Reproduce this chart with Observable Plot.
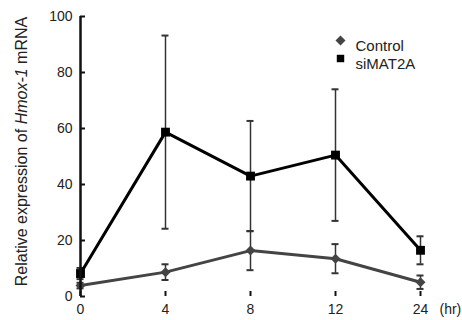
<!DOCTYPE html>
<html>
<head>
<meta charset="utf-8">
<script src="https://cdn.jsdelivr.net/npm/d3@7"></script>
<script src="https://cdn.jsdelivr.net/npm/@observablehq/plot@0.6"></script>
<style>
  html, body { margin: 0; padding: 0; background: #fff; }
  #chart { width: 462px; height: 320px; }
  #chart svg g[aria-label="x-axis tick label"],
  #chart svg g[aria-label="y-axis tick label"] { font-size: 14px !important; }
</style>
</head>
<body>
<div id="chart"></div>
<script>
const hours = ["0", "4", "8", "12", "24"];
const controlMean = [3.9, 8.7, 16.4, 13.5, 5.1];
const controlErr = [1.0, 2.8, 7.0, 5.2, 2.4];
const simat2aMean = [8.2, 58.7, 43.0, 50.5, 16.5];
const simat2aErr = [2.0, 34.5, 19.7, 23.5, 5.0];
const yTicks = [0, 20, 40, 60, 80, 100];
const seriesNames = ["Control", "siMAT2A"];
const yTitleParts = ["Relative expression of ", "Hmox-1", " mRNA"];
const xUnit = "(hr)";

const controlRows = hours.map((h, i) => ({hour: h, mean: controlMean[i], err: controlErr[i], series: seriesNames[0]}));
const simRows = hours.map((h, i) => ({hour: h, mean: simat2aMean[i], err: simat2aErr[i], series: seriesNames[1]}));
const allRows = controlRows.concat(simRows);
const yTitle = yTitleParts.join("");

const errColor = "#333";
const ctrlColor = "#444";
const simColor = "#000";

const chart = Plot.plot({
  width: 462,
  height: 320,
  marginLeft: 80,
  marginRight: 42,
  marginTop: 16,
  marginBottom: 24,
  style: {fontFamily: "'Liberation Sans', Arial, Helvetica, sans-serif", fontSize: "14px", color: "#222", background: "#fff"},
  x: {type: "point", domain: hours, padding: 0},
  y: {domain: [0, 100]},
  marks: [
    // error bars
    Plot.ruleX(allRows, {x: "hour", y1: d => d.mean - d.err, y2: d => d.mean + d.err, stroke: errColor, strokeWidth: 1.5}),
    Plot.ruleY(allRows, {x1: "hour", x2: "hour", y: d => d.mean + d.err, insetLeft: -3.5, insetRight: -3.5, stroke: errColor, strokeWidth: 2}),
    Plot.ruleY(allRows, {x1: "hour", x2: "hour", y: d => d.mean - d.err, insetLeft: -3.5, insetRight: -3.5, stroke: errColor, strokeWidth: 2}),
    // lines
    Plot.line(controlRows, {x: "hour", y: "mean", stroke: ctrlColor, strokeWidth: 3}),
    Plot.line(simRows, {x: "hour", y: "mean", stroke: simColor, strokeWidth: 3}),
    // markers
    Plot.dot(controlRows, {x: "hour", y: "mean", symbol: "diamond2", r: 4.5, fill: ctrlColor, stroke: "none"}),
    Plot.dot(simRows, {x: "hour", y: "mean", symbol: "square", r: 5, fill: simColor, stroke: "none"}),
    // axes lines
    Plot.ruleX([hours[0]], {x: d => d, y1: 0, y2: 100, stroke: "#111", strokeWidth: 2.5}),
    Plot.ruleY([0], {y: d => d, x1: hours[0], x2: hours[hours.length - 1], stroke: "#111", strokeWidth: 2.5}),
    // axes
    Plot.axisY({ticks: yTicks, tickSize: -5, tickPadding: 13, strokeWidth: 2, stroke: "#111", fill: "#222", fontSize: 14, label: null}),
    Plot.axisX({ticks: hours, tickSize: -5, tickPadding: 13, strokeWidth: 2, stroke: "#111", fill: "#222", fontSize: 14, label: null}),
    Plot.text([xUnit], {x: () => hours[hours.length - 1], y: () => 0, dx: 19, dy: 8, textAnchor: "start", lineAnchor: "top", fill: "#222", fontSize: 14}),
    // y title
    Plot.text([yTitle], {frameAnchor: "left", rotate: -90, dx: -59, dy: -5, textAnchor: "middle", lineAnchor: "middle", fontSize: 16, fill: "#222"}),
    // legend
    Plot.dot([seriesNames[0]], {frameAnchor: "top-left", dx: 260, dy: 24, symbol: "diamond2", r: 4.5, fill: ctrlColor, stroke: "none"}),
    Plot.dot([seriesNames[1]], {frameAnchor: "top-left", dx: 260, dy: 42, symbol: "square", r: 4.2, fill: simColor, stroke: "none"}),
    Plot.text([seriesNames[0]], {frameAnchor: "top-left", dx: 275, dy: 24, textAnchor: "start", fontSize: 15, fill: "#222"}),
    Plot.text([seriesNames[1]], {frameAnchor: "top-left", dx: 275, dy: 42, textAnchor: "start", fontSize: 15, fill: "#222"})
  ]
});

// italicize the gene name in the y title
for (const t of chart.querySelectorAll("text")) {
  if (t.textContent === yTitle) {
    while (t.firstChild) t.removeChild(t.firstChild);
    yTitleParts.forEach((p, i) => {
      const ts = document.createElementNS("http://www.w3.org/2000/svg", "tspan");
      ts.textContent = p;
      if (i === 1) ts.setAttribute("font-style", "italic");
      t.appendChild(ts);
    });
  }
}

document.getElementById("chart").appendChild(chart);
</script>
</body>
</html>
